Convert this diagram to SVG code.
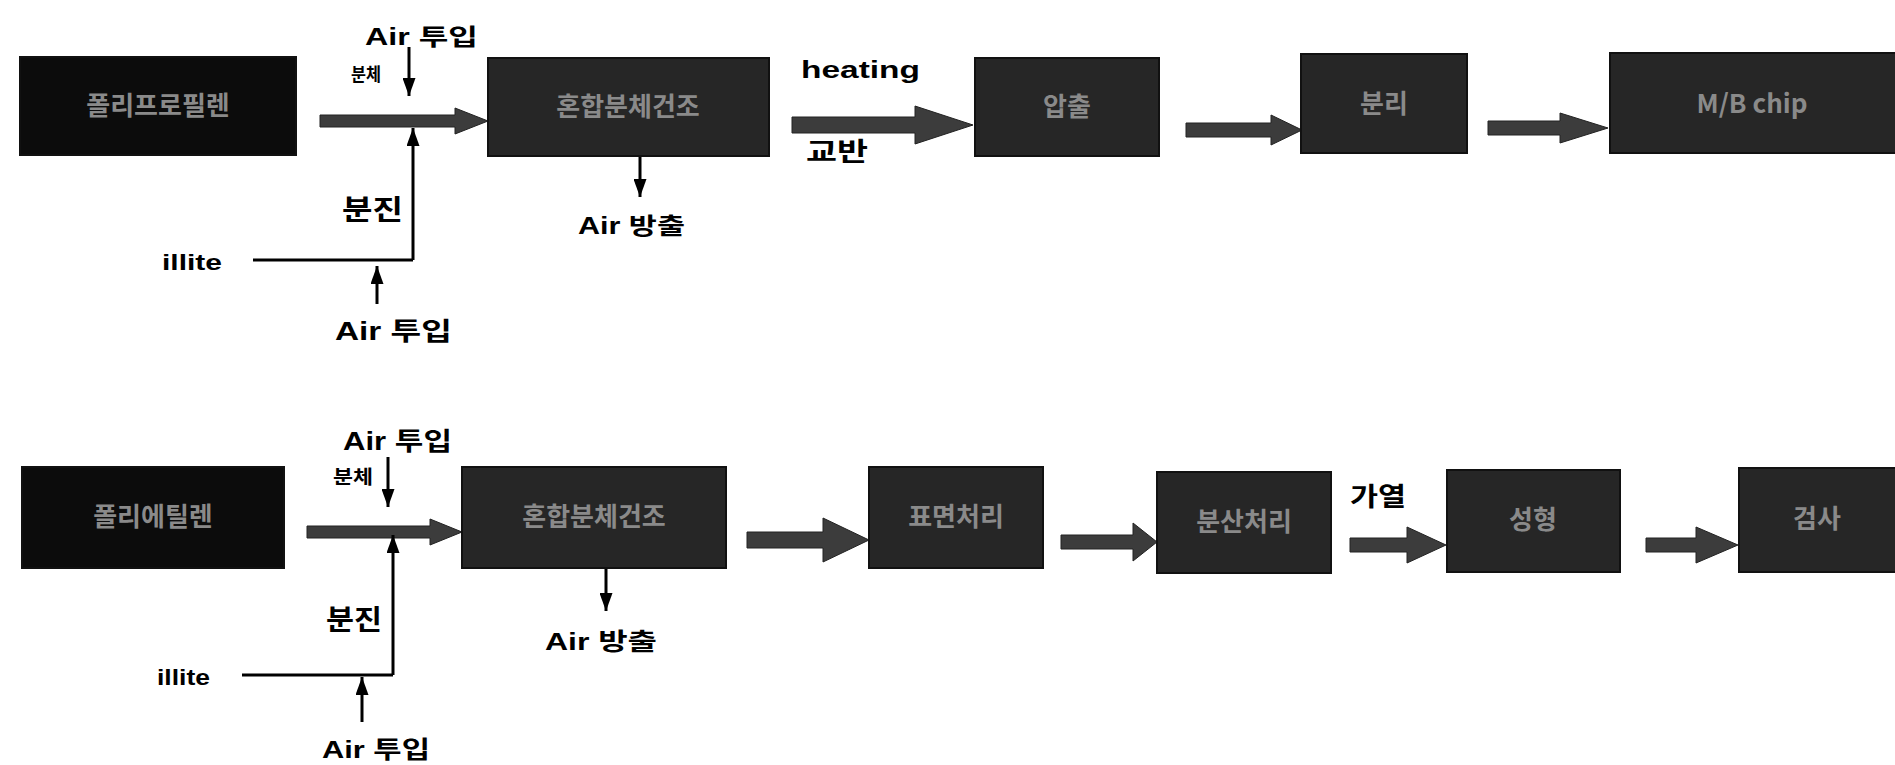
<svg xmlns="http://www.w3.org/2000/svg" width="1895" height="765" viewBox="0 0 1895 765">
<defs>
<marker id="ah" viewBox="0 0 10 10" refX="10" refY="5" markerUnits="userSpaceOnUse" markerWidth="18" markerHeight="13" orient="auto" preserveAspectRatio="none"><path d="M0,0 L10,5 L0,10 z" fill="#000"/></marker>
<style>
.box{fill:#262626;stroke:#111;stroke-width:2}
.box.dk{fill:#0c0c0c}
.bt{font-family:"Noto Sans CJK KR","Noto Sans",sans-serif;font-size:26px;fill:#8a8a8a;text-anchor:middle;font-weight:bold}
.lb{font-family:"Liberation Sans","Noto Sans CJK KR",sans-serif;font-weight:bold;fill:#000}
.ln{stroke:#000;stroke-width:3;fill:none}
.la{stroke:#000;stroke-width:3;fill:none;marker-end:url(#ah)}
.fat{fill:#3c3c3c;stroke:#222;stroke-width:1}
</style>
</defs>
<rect width="1895" height="765" fill="#fff"/>

<g id="connectors">
<!-- row 1 -->
<path class="fat" d="M320,115 H455 V108 L488,121 L455,134 V127 H320 Z"/>
<line class="la" x1="409" y1="47" x2="409" y2="96"/>
<line class="ln" x1="253" y1="260" x2="413" y2="260"/>
<line class="la" x1="413" y1="260" x2="413" y2="128"/>
<line class="la" x1="377" y1="304" x2="377" y2="266"/>
<line class="la" x1="640" y1="156" x2="640" y2="197"/>
<path class="fat" d="M792,117 H915 V106 L973,125 L915,144 V133 H792 Z"/>
<path class="fat" d="M1186,123 H1271 V115 L1302,130 L1271,145 V137 H1186 Z"/>
<path class="fat" d="M1488,121 H1560 V113 L1608,128 L1560,143 V135 H1488 Z"/>
<!-- row 2 -->
<path class="fat" d="M307,526 H430 V519 L462,532 L430,545 V538 H307 Z"/>
<line class="la" x1="388" y1="457" x2="388" y2="507"/>
<line class="ln" x1="242" y1="675" x2="393" y2="675"/>
<line class="la" x1="393" y1="675" x2="393" y2="535"/>
<line class="la" x1="362" y1="722" x2="362" y2="677"/>
<line class="la" x1="606" y1="568" x2="606" y2="611"/>
<path class="fat" d="M747,532 H823 V518 L869,540 L823,562 V548 H747 Z"/>
<path class="fat" d="M1061,535 H1133 V523 L1157,542 L1133,561 V549 H1061 Z"/>
<path class="fat" d="M1350,538 H1407 V527 L1446,545 L1407,563 V552 H1350 Z"/>
<path class="fat" d="M1646,538 H1696 V527 L1738,545 L1696,563 V552 H1646 Z"/>
</g>

<g id="n1"><rect class="box dk" x="20" y="57" width="276" height="98"/><text class="bt" x="158" y="115">폴리프로필렌</text></g>
<g id="n2"><rect class="box" x="488" y="58" width="281" height="98"/><text class="bt" x="628" y="116">혼합분체건조</text></g>
<g id="n3"><rect class="box" x="975" y="58" width="184" height="98"/><text class="bt" x="1067" y="116">압출</text></g>
<g id="n4"><rect class="box" x="1301" y="54" width="166" height="99"/><text class="bt" x="1384" y="113">분리</text></g>
<g id="n5"><rect class="box" x="1610" y="53" width="290" height="100"/><text class="bt" x="1752" y="113">M/B chip</text></g>

<g id="n6"><rect class="box dk" x="22" y="467" width="262" height="101"/><text class="bt" x="153" y="526">폴리에틸렌</text></g>
<g id="n7"><rect class="box" x="462" y="467" width="264" height="101"/><text class="bt" x="594" y="526">혼합분체건조</text></g>
<g id="n8"><rect class="box" x="869" y="467" width="174" height="101"/><text class="bt" x="956" y="526">표면처리</text></g>
<g id="n9"><rect class="box" x="1157" y="472" width="174" height="101"/><text class="bt" x="1244" y="531">분산처리</text></g>
<g id="n10"><rect class="box" x="1447" y="470" width="173" height="102"/><text class="bt" x="1533" y="529">성형</text></g>
<g id="n11"><rect class="box" x="1739" y="468" width="160" height="104"/><text class="bt" x="1817" y="528">검사</text></g>

<g id="labels">
<text class="lb" x="365" y="45" font-size="23" textLength="113" lengthAdjust="spacingAndGlyphs">Air 투입</text>
<text class="lb" x="351" y="81" font-size="18" textLength="30" lengthAdjust="spacingAndGlyphs">분체</text>
<text class="lb" x="342" y="220" font-size="28" textLength="61" lengthAdjust="spacingAndGlyphs">분진</text>
<text class="lb" x="162" y="270" font-size="22" textLength="60" lengthAdjust="spacingAndGlyphs">illite</text>
<text class="lb" x="335" y="340" font-size="25" textLength="117" lengthAdjust="spacingAndGlyphs">Air 투입</text>
<text class="lb" x="578" y="234" font-size="23" textLength="107" lengthAdjust="spacingAndGlyphs">Air 방출</text>
<text class="lb" x="801" y="78" font-size="23" textLength="119" lengthAdjust="spacingAndGlyphs">heating</text>
<text class="lb" x="806" y="161" font-size="26" textLength="62" lengthAdjust="spacingAndGlyphs">교반</text>

<text class="lb" x="343" y="450" font-size="25" textLength="109" lengthAdjust="spacingAndGlyphs">Air 투입</text>
<text class="lb" x="333" y="484" font-size="19" textLength="40" lengthAdjust="spacingAndGlyphs">분체</text>
<text class="lb" x="326" y="630" font-size="28" textLength="56" lengthAdjust="spacingAndGlyphs">분진</text>
<text class="lb" x="157" y="685" font-size="22" textLength="53" lengthAdjust="spacingAndGlyphs">illite</text>
<text class="lb" x="322" y="758" font-size="24" textLength="108" lengthAdjust="spacingAndGlyphs">Air 투입</text>
<text class="lb" x="545" y="650" font-size="24" textLength="112" lengthAdjust="spacingAndGlyphs">Air 방출</text>
<text class="lb" x="1350" y="506" font-size="26" textLength="56" lengthAdjust="spacingAndGlyphs">가열</text>
</g>
</svg>
